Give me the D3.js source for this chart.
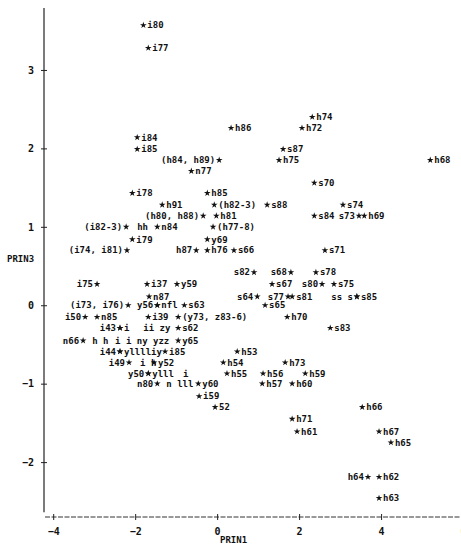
<!DOCTYPE html>
<html>
<head>
<meta charset="utf-8">
<script src="https://cdn.jsdelivr.net/npm/d3@7"></script>
<style>
  html, body { margin: 0; padding: 0; background: #fff; }
  text { font-family: "DejaVu Sans Mono", monospace; font-weight: bold; fill: #111; }
</style>
</head>
<body>
<div id="chart"></div>
<script>
// point labels, PRIN1 (x), PRIN3 (y), side of the label ('r' = after the star, 'l' = before)
const labels = ['i80', 'i77', 'h74', 'h86', 'h72', 'i84', 'i85', 's87', '(h84, h89)', 'h75', 'h68',
  'n77', 's70', 'i78', 'h85', 'h91', '(h82-3)', 's88', 's74', '(h80, h88)', 'h81', 's84', 's73', 'h69',
  '(i82-3)', 'n84', '(h77-8)', 'i79', 'y69', '(i74, i81)', 'h87', 'h76', 's66', 's71',
  's82', 's68', 's78', 'i75', 'i37', 'y59', 's67', 's80', 's75',
  'n87', 's64', 's77', 's81', 'ss s', 's85',
  '(i73, i76)', 'y56', 'nfl', 's63', 's65',
  'i50', 'n85', 'i39', '(y73, z83-6)', 'h70',
  'i43', 'i', 's62', 's83', 'n66', 'y65',
  'i44', 'ylllliy', 'i85', 'h53', 'i49', 'y52', 'h54', 'h73',
  'y50', 'ylll', 'h55', 'h56', 'h59', 'n80', 'y60', 'h57', 'h60',
  'i59', '52', 'h66', 'h71', 'h61', 'h67', 'h65', 'h64', 'h62', 'h63'];
const prin1 = [-1.80, -1.68, 2.32, 0.34, 2.07, -1.95, -1.95, 1.61, 0.05, 1.51, 5.20,
  -0.63, 2.37, -2.07, -0.24, -1.34, -0.07, 1.22, 3.07, -0.34, -0.02, 2.37, 3.46, 3.59,
  -2.22, -1.46, -0.10, -2.07, -0.24, -2.20, -0.51, -0.24, 0.41, 2.63,
  0.90, 1.80, 2.41, -2.93, -1.71, -0.98, 1.34, 2.56, 2.85,
  -1.66, 0.98, 1.73, 1.83, 3.41, 3.41,
  -2.17, -1.46, -1.46, -0.80, 1.17,
  -3.22, -2.93, -1.68, -0.95, 1.71,
  -2.37, -2.37, -0.95, 2.76, -3.27, -0.95,
  -2.37, -2.37, -1.27, 0.49, -2.15, -1.54, 0.15, 1.66,
  -1.68, -1.68, 0.24, 1.12, 2.15, -1.46, -0.46, 1.10, 1.83,
  -0.44, -0.05, 3.54, 1.83, 1.95, 3.95, 4.24, 3.68, 3.95, 3.95];
const prin3 = [3.57, 3.28, 2.40, 2.26, 2.26, 2.14, 1.99, 1.99, 1.85, 1.85, 1.85,
  1.71, 1.56, 1.43, 1.43, 1.28, 1.28, 1.28, 1.28, 1.14, 1.14, 1.14, 1.14, 1.14,
  1.00, 1.00, 1.00, 0.84, 0.84, 0.70, 0.70, 0.70, 0.70, 0.70,
  0.42, 0.42, 0.42, 0.27, 0.27, 0.27, 0.27, 0.27, 0.27,
  0.11, 0.11, 0.11, 0.11, 0.11, 0.11,
  0.00, 0.00, 0.00, 0.00, 0.00,
  -0.15, -0.15, -0.15, -0.15, -0.15,
  -0.29, -0.29, -0.29, -0.29, -0.45, -0.45,
  -0.59, -0.59, -0.59, -0.59, -0.73, -0.73, -0.73, -0.73,
  -0.87, -0.87, -0.87, -0.87, -0.87, -1.00, -1.00, -1.00, -1.00,
  -1.16, -1.30, -1.30, -1.45, -1.61, -1.61, -1.75, -2.19, -2.19, -2.46];
const sides = ['r', 'r', 'r', 'r', 'r', 'r', 'r', 'r', 'l', 'r', 'r',
  'r', 'r', 'r', 'r', 'r', 'r', 'r', 'r', 'l', 'r', 'r', 'l', 'r',
  'l', 'r', 'r', 'r', 'r', 'l', 'l', 'r', 'r', 'r',
  'l', 'l', 'r', 'l', 'r', 'r', 'r', 'l', 'r',
  'r', 'l', 'l', 'r', 'l', 'r',
  'l', 'l', 'r', 'r', 'r',
  'l', 'r', 'r', 'r', 'r',
  'l', 'r', 'r', 'r', 'l', 'r',
  'l', 'r', 'r', 'r', 'l', 'r', 'r', 'r',
  'l', 'r', 'r', 'r', 'r', 'l', 'r', 'r', 'r',
  'r', 'r', 'r', 'r', 'r', 'r', 'r', 'l', 'r', 'r'];

// overprinted letters with no star of their own
const hiddenText = ['hh', 'ii zy', 'h h', 'i i ny yzz', 'i h', 'i', 'n lll'];
const hiddenX = [-1.95, -1.80, -3.05, -2.49, -1.88, -0.83, -1.24];
const hiddenY = [1.00, -0.29, -0.45, -0.45, -0.73, -0.87, -1.00];

const xTicks = [-4, -2, 0, 2, 4, 6];
const yTicks = [-2, -1, 0, 1, 2, 3];

const width = 461, height = 545;

const svg = d3.select('#chart').append('svg')
  .attr('width', width).attr('height', height);

const x = d3.scaleLinear().domain([-4.2, 5.95]).range([45, 461]);
const y = d3.scaleLinear().domain([-2.7, 3.79]).range([517, 8]);

// y axis, "+" at each tick
const yAxis = svg.append('g')
  .attr('transform', `translate(${x(-4.2) - 1},0)`)
  .call(d3.axisLeft(y).tickValues(yTicks).tickSize(4).tickPadding(6).tickFormat(d3.format('d')));
yAxis.select('.domain').attr('d', `M0,${y(3.79)}V${y(-2.64)}`).attr('stroke', '#222').attr('stroke-width', 1.2);
yAxis.selectAll('.tick line').attr('x1', -3).attr('x2', 3).attr('stroke', '#222');
yAxis.selectAll('.tick text').attr('font-size', 10).attr('font-family', '"DejaVu Sans Mono", monospace');

// x axis, dashed like the printer line
const xAxis = svg.append('g')
  .attr('transform', `translate(0,${y(-2.7)})`)
  .call(d3.axisBottom(x).tickValues(xTicks).tickSize(4).tickPadding(7).tickFormat(d3.format('d')));
xAxis.select('.domain').attr('d', `M${x(-4.2)},0H${x(5.95)}`).attr('stroke', '#333')
  .attr('stroke-dasharray', '5,1.5').attr('stroke-width', 1);
xAxis.selectAll('.tick line').attr('y1', -3).attr('y2', 3).attr('stroke', '#222');
xAxis.selectAll('.tick text').attr('font-size', 10).attr('font-family', '"DejaVu Sans Mono", monospace');

// axis titles
svg.append('text').attr('x', x(0.4)).attr('y', 543).attr('text-anchor', 'middle')
  .attr('font-size', 9).text('PRIN1');
svg.append('text').attr('x', 7).attr('y', 262)
  .attr('font-size', 9).text('PRIN3');

// points
const points = labels.map((label, i) => ({ label, px: prin1[i], py: prin3[i], side: sides[i] }));

const star = d3.symbol().type(d3.symbolStar).size(14);

const nodes = svg.append('g')
  .selectAll('.pt')
  .data(points)
  .enter()
  .append('g')
  .attr('class', 'pt')
  .attr('transform', (d) => `translate(${x(d.px)},${y(d.py)})`);

nodes.append('path').attr('d', star).attr('fill', '#111');

nodes.append('text')
  .attr('x', (d) => (d.side === 'r' ? 4 : -4))
  .attr('dy', '0.35em')
  .attr('text-anchor', (d) => (d.side === 'r' ? 'start' : 'end'))
  .attr('font-size', 9)
  .text((d) => d.label);

svg.append('g')
  .selectAll('text')
  .data(hiddenText)
  .enter()
  .append('text')
  .attr('x', (d, i) => x(hiddenX[i]))
  .attr('y', (d, i) => y(hiddenY[i]))
  .attr('dy', '0.35em')
  .attr('font-size', 9)
  .text((d) => d);
</script>
</body>
</html>
